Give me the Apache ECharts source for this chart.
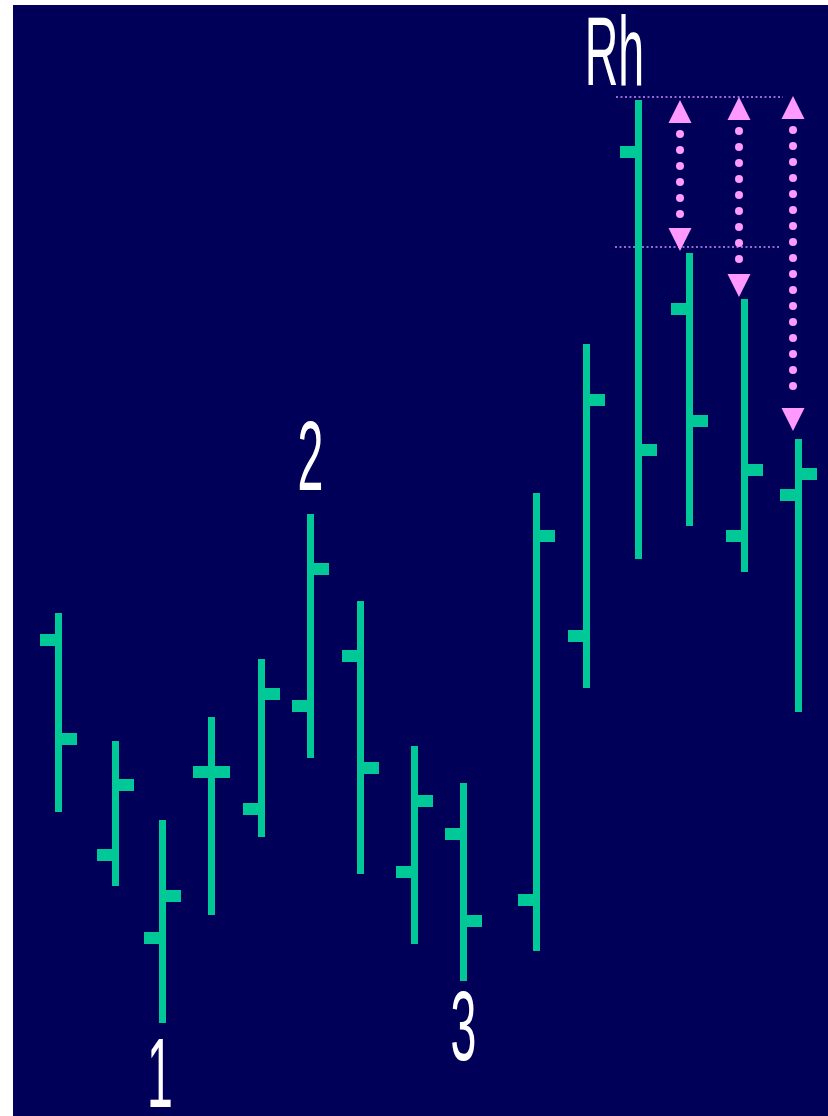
<!DOCTYPE html>
<html>
<head>
<meta charset="utf-8">
<script src="https://cdn.jsdelivr.net/npm/echarts@6/dist/echarts.min.js"></script>
<style>
  html, body { margin: 0; padding: 0; background: #ffffff; }
  #main { width: 828px; height: 1116px; }
</style>
</head>
<body>
<div id="main"></div>
<script>
// ---- data (day index, prices) ----
var days  = [0.91, 2.05, 2.99, 3.97, 4.97, 5.95, 6.95, 8.03, 9.01, 10.47, 11.47, 12.51, 13.53, 14.63, 15.71];
var opens = [47.6, 26.1, 17.8, 34.4, 30.7, 41.0, 46.0, 24.4, 28.2, 21.6, 48.0, 96.4, 80.7, 58.0, 62.1];
var highs = [50.3, 37.5, 29.6, 39.9, 45.7, 60.2, 51.5, 37.0, 33.3, 62.3, 77.2, 101.6, 86.3, 81.7, 67.7];
var lows  = [30.4, 23.0, 9.3, 20.1, 27.9, 35.8, 24.2, 17.2, 13.5, 16.5, 42.8, 55.7, 59.0, 54.4, 40.4];
var closes= [37.7, 33.1, 22.0, 34.4, 42.2, 54.7, 34.8, 31.5, 19.5, 58.0, 71.6, 66.6, 69.5, 64.6, 64.2];

// pivot labels
var labelTexts = ["1", "2", "3", "Rh"];
var labelDays  = [2.94, 5.95, 9.01, 12.03];
var labelBase  = [0.6, 62.3, 5.3, 102.8];

// measurement arrows (day, top price, bottom price)
var arrowDays   = [13.34, 14.52, 15.60];
var arrowTops   = [101.6, 101.9, 102.0];
var arrowBottoms= [86.5, 81.9, 68.5];

// dotted reference lines (from day, to day, price)
var refFrom  = [12.06, 12.04];
var refTo    = [15.40, 15.36];
var refPrice = [101.9, 86.9];

var NAVY = '#000058', GREEN = '#00c896', PINK = '#ff99ff', LINEPINK = '#cc88ff';

var ohlcData = days.map(function (d, i) { return [d, opens[i], highs[i], lows[i], closes[i]]; });
var arrowData = arrowDays.map(function (d, i) { return [d, arrowTops[i], arrowBottoms[i]]; });
var refData = refFrom.map(function (d, i) { return [d, refTo[i], refPrice[i]]; });
var labelData = labelDays.map(function (d, i) { return [d, labelBase[i]]; });

var chart = echarts.init(document.getElementById('main'), null, { renderer: 'canvas' });

function renderOHLC(params, api) {
  var x = api.value(0);
  var o = api.coord([x, api.value(1)]);
  var h = api.coord([x, api.value(2)]);
  var l = api.coord([x, api.value(3)]);
  var c = api.coord([x, api.value(4)]);
  var cx = h[0], sw = 7, tl = 15, th = 12;
  var st = { fill: GREEN };
  return { type: 'group', children: [
    { type: 'rect', shape: { x: cx - sw / 2, y: h[1], width: sw, height: l[1] - h[1] }, style: st },
    { type: 'rect', shape: { x: cx - sw / 2 - tl, y: o[1] - th / 2, width: tl, height: th }, style: st },
    { type: 'rect', shape: { x: cx + sw / 2, y: c[1] - th / 2, width: tl, height: th }, style: st }
  ]};
}

function renderArrow(params, api) {
  var x = api.value(0);
  var t = api.coord([x, api.value(1)]);
  var b = api.coord([x, api.value(2)]);
  var cx = t[0], tw = 23, tH = 23;
  var children = [];
  children.push({ type: 'polygon', shape: { points: [[cx, t[1]], [cx - tw / 2, t[1] + tH], [cx + tw / 2, t[1] + tH]] }, style: { fill: PINK } });
  children.push({ type: 'polygon', shape: { points: [[cx, b[1]], [cx - tw / 2, b[1] - tH], [cx + tw / 2, b[1] - tH]] }, style: { fill: PINK } });
  var topBase = t[1] + tH, botBase = b[1] - tH;
  for (var y = topBase + 11; y <= botBase - 9; y += 16) {
    children.push({ type: 'circle', shape: { cx: cx, cy: y, r: 4 }, style: { fill: PINK } });
  }
  return { type: 'group', children: children };
}

function renderRef(params, api) {
  var p1 = api.coord([api.value(0), api.value(2)]);
  var p2 = api.coord([api.value(1), api.value(2)]);
  return { type: 'line', shape: { x1: p1[0], y1: p1[1], x2: p2[0], y2: p2[1] },
    style: { stroke: LINEPINK, lineWidth: 1.5, lineDash: [2, 2.5] } };
}

function renderLabel(params, api) {
  var p = api.coord([api.value(0), api.value(1)]);
  var F = 99;
  return { type: 'text', x: p[0], y: p[1] - 0.31 * F, scaleX: 0.47, scaleY: 1,
    style: { text: labelTexts[params.dataIndex], x: 0, y: 0, align: 'center', verticalAlign: 'middle',
      fontSize: F, fontFamily: '"Liberation Sans", Arial, sans-serif', fill: '#ffffff' } };
}

chart.setOption({
  backgroundColor: '#ffffff',
  animation: false,
  grid: { left: 13, right: 0, top: 5, bottom: 0, show: true, backgroundColor: NAVY, borderWidth: 0 },
  xAxis: { type: 'value', min: 0, max: 16.3, show: false },
  yAxis: { type: 'value', min: 0, max: 111.1, show: false },
  series: [
    { type: 'custom', name: 'ref', renderItem: renderRef, data: refData, encode: { x: [0, 1], y: 2 }, z: 1 },
    { type: 'custom', name: 'ohlc', renderItem: renderOHLC, data: ohlcData, encode: { x: 0, y: [1, 2, 3, 4] }, z: 2 },
    { type: 'custom', name: 'arrows', renderItem: renderArrow, data: arrowData, encode: { x: 0, y: [1, 2] }, z: 3 },
    { type: 'custom', name: 'labels', renderItem: renderLabel, data: labelData, encode: { x: 0, y: 1 }, z: 4 }
  ]
});
</script>
</body>
</html>
